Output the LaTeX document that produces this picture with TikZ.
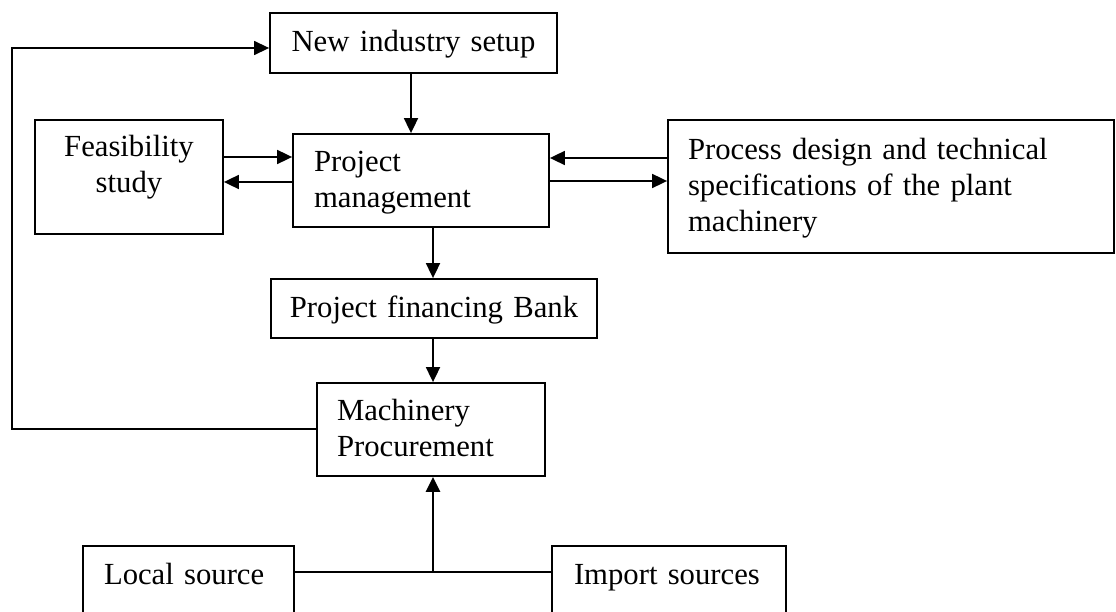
\documentclass[tikz,border=0pt]{standalone}
\usepackage{fontspec}
\setmainfont{Liberation Serif}
\usetikzlibrary{arrows.meta}
\begin{document}
\begin{tikzpicture}[x=1pt,y=-1pt,
  box/.style={draw, line width=1.8pt, inner ysep=0pt, font=\fontsize{30.7}{36}\selectfont},
  link/.style={line width=1.8pt},
  arr/.style={link, -{Triangle[length=15pt,width=14pt]}}]
\useasboundingbox (0,0) rectangle (1116,612);
\fill[white] (0,0) rectangle (1116,612);
\clip (0,0) rectangle (1116,612);

% boxes
\node[box, inner xsep=0pt, text width=287pt, align=center, text height=39pt, text depth=21pt] (new) at (413.5,43) {New industry setup};
\node[box, inner xsep=0pt, text width=188pt, align=center, text height=37pt, text depth=77pt] (feas) at (129,177) {Feasibility\\study};
\node[box, inner xsep=21pt, text width=214pt, align=left, text height=38pt, text depth=55pt] (pm) at (421,180.5) {Project\\management};
\node[box, inner xsep=20pt, text width=406pt, align=left, text height=40pt, text depth=93pt] (proc) at (891,186.5) {Process design and technical\\specifications of the plant\\machinery};
\node[box, inner xsep=0pt, text width=326pt, align=center, text height=38pt, text depth=21pt] (bank) at (434,308.5) {Project financing Bank};
\node[box, inner xsep=20pt, text width=188pt, align=left, text height=37pt, text depth=56pt] (mach) at (431,429.5) {Machinery\\Procurement};
\node[box, inner xsep=21pt, text width=169pt, align=left, text height=38pt, text depth=32pt] (local) at (188.5,581) {Local source};
\node[box, inner xsep=22pt, text width=190pt, align=left, text height=38pt, text depth=32pt] (import) at (669,581) {Import sources};

% reference lines for connectors
\coordinate (xa) at (411,0);
\coordinate (xb) at (433,0);
\coordinate (ya) at (0,157);
\coordinate (yb) at (0,182);
\coordinate (yc) at (0,158);
\coordinate (yd) at (0,181);
\coordinate (lpb) at (12,429);
\coordinate (lpt) at (12,48);
\coordinate (ybot) at (0,572);

% connectors
\draw[arr] (new.south -| xa) -- (pm.north -| xa);
\draw[arr] (feas.east |- ya) -- (pm.west |- ya);
\draw[arr] (pm.west |- yb) -- (feas.east |- yb);
\draw[arr] (proc.west |- yc) -- (pm.east |- yc);
\draw[arr] (pm.east |- yd) -- (proc.west |- yd);
\draw[arr] (pm.south -| xb) -- (bank.north -| xb);
\draw[arr] (bank.south -| xb) -- (mach.north -| xb);
\draw[arr, line width=1.4pt] (mach.west |- lpb) -- (lpb) -- (lpt) -- (new.west |- lpt);
\draw[link] (local.east |- ybot) -- (import.west |- ybot);
\draw[arr, line width=2.6pt] (xb |- ybot) -- (mach.south -| xb);
\end{tikzpicture}
\end{document}
